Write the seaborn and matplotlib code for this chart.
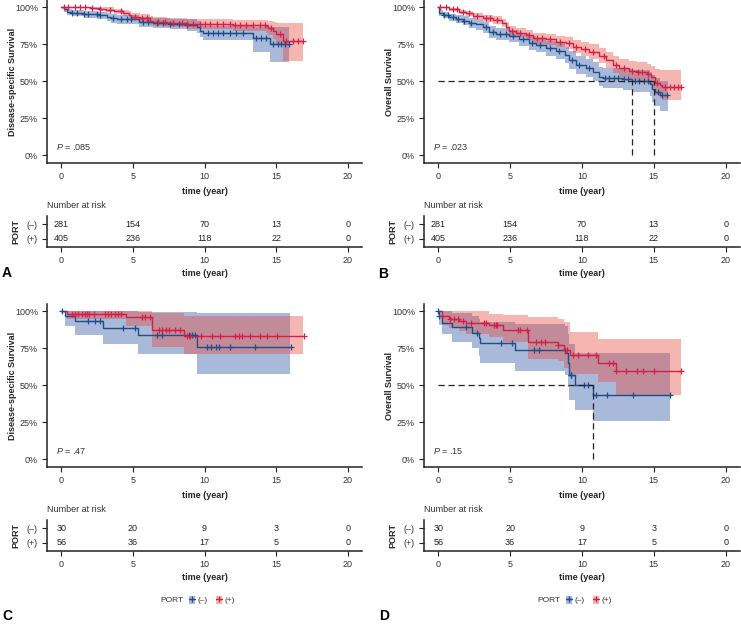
import numpy as np
import pandas as pd
import matplotlib
matplotlib.use("Agg")
import matplotlib.pyplot as plt
import seaborn as sns
from matplotlib.patches import Patch
from matplotlib.lines import Line2D

# ---------------- data ----------------
risk_times = [0, 5, 10, 15, 20]
group_labels = ["(\u2013)", "(+)"]

# Panel A: disease-specific survival (full cohort)
A_neg_t = [0, 0.16, 0.4, 0.74, 1.55, 2.5, 3.2, 3.5, 3.9, 5.4, 6.4, 7.6, 8.75, 9.45, 9.7, 9.9, 13.4, 14.55]
A_neg_s = [1.0, 0.986, 0.97, 0.96, 0.953, 0.946, 0.937, 0.926, 0.919, 0.903, 0.896, 0.887, 0.88, 0.865, 0.842, 0.824, 0.79, 0.75]
A_neg_lo = [1.0, 0.972, 0.951, 0.939, 0.93, 0.921, 0.91, 0.897, 0.889, 0.87, 0.862, 0.851, 0.842, 0.825, 0.799, 0.778, 0.70, 0.63]
A_neg_hi = [1.0, 1.0, 0.99, 0.982, 0.977, 0.971, 0.964, 0.956, 0.95, 0.937, 0.931, 0.924, 0.919, 0.906, 0.887, 0.872, 0.87, 0.87]
A_neg_end = 15.9
A_neg_cens = [0.74, 1.1, 1.55, 1.83, 2.48, 2.7, 3.64, 4.2, 4.57, 4.9, 5.73, 6.08, 6.66, 7.1, 7.6, 8.2, 8.75,
              10.25, 10.6, 10.95, 11.3, 11.76, 12.2, 12.7, 13.6, 13.97, 14.3, 14.78, 15.13, 15.36, 15.6, 15.9]
A_pos_t = [0, 2.0, 2.6, 3.1, 3.7, 4.3, 4.7, 4.9, 5.5, 6.2, 6.4, 7.35, 8.75, 12.0, 14.3, 14.45, 14.8, 15.0, 15.5]
A_pos_s = [1.0, 0.995, 0.99, 0.985, 0.975, 0.96, 0.95, 0.937, 0.926, 0.91, 0.903, 0.896, 0.887, 0.88, 0.872, 0.858, 0.842, 0.82, 0.77]
A_pos_lo = [1.0, 0.985, 0.977, 0.97, 0.958, 0.94, 0.928, 0.912, 0.899, 0.88, 0.872, 0.864, 0.853, 0.843, 0.83, 0.81, 0.785, 0.75, 0.64]
A_pos_hi = [1.0, 1.0, 1.0, 1.0, 0.992, 0.98, 0.973, 0.963, 0.954, 0.941, 0.935, 0.929, 0.922, 0.918, 0.915, 0.906, 0.9, 0.893, 0.893]
A_pos_end = 16.9
A_pos_cens = [0.16, 0.5, 0.97, 1.32, 1.67, 2.13, 2.7, 3.4, 4.2, 5.15, 5.6, 5.97, 6.77, 7.24, 7.8, 8.4, 8.75, 9.2,
              9.67, 10.0, 10.37, 10.84, 11.3, 11.76, 12.1, 12.46, 12.9, 13.4, 13.85, 14.2, 14.66, 15.24, 15.7,
              16.17, 16.5, 16.87]
A_pval = ".085"
A_risk_neg = [281, 154, 70, 13, 0]
A_risk_pos = [405, 236, 118, 22, 0]

# Panel B: overall survival (full cohort)
B_neg_t = [0, 0.05, 0.3, 0.77, 1.23, 1.7, 2.16, 2.6, 3.1, 3.55, 4.0, 4.95, 5.6, 6.3, 6.8, 7.5, 8.2, 8.8, 9.1,
           9.6, 10.3, 10.75, 11.2, 11.45, 12.85, 13.5, 14.7, 14.9, 15.1, 15.4]
B_neg_s = [1.0, 0.964, 0.948, 0.932, 0.921, 0.91, 0.896, 0.885, 0.865, 0.835, 0.82, 0.806, 0.783, 0.76, 0.745,
           0.722, 0.707, 0.677, 0.643, 0.61, 0.587, 0.564, 0.53, 0.52, 0.512, 0.50, 0.48, 0.45, 0.43, 0.406]
B_neg_lo = [1.0, 0.945, 0.925, 0.905, 0.892, 0.879, 0.863, 0.85, 0.828, 0.796, 0.779, 0.763, 0.738, 0.713, 0.696,
            0.671, 0.654, 0.622, 0.586, 0.551, 0.526, 0.501, 0.465, 0.453, 0.443, 0.43, 0.40, 0.36, 0.33, 0.30]
B_neg_hi = [1.0, 0.984, 0.97, 0.957, 0.948, 0.94, 0.928, 0.919, 0.902, 0.875, 0.862, 0.85, 0.829, 0.809, 0.795,
            0.775, 0.761, 0.735, 0.703, 0.672, 0.651, 0.63, 0.597, 0.589, 0.583, 0.574, 0.56, 0.545, 0.525, 0.5]
B_neg_end = 16.0
B_neg_cens = [0.4, 0.7, 1.0, 1.4, 1.8, 2.3, 3.3, 3.8, 4.3, 4.7, 5.2, 5.9, 6.5, 7.1, 7.8, 8.4, 9.3, 9.8, 10.5,
              11.6, 11.9, 12.2, 12.5, 12.9, 13.2, 13.7, 14.0, 14.3, 14.6, 15.3, 15.6, 15.9]
B_pos_t = [0, 0.77, 1.46, 1.93, 2.4, 3.1, 3.8, 4.4, 4.7, 4.95, 5.4, 6.1, 6.6, 7.5, 8.2, 8.9, 9.4, 9.9, 10.5, 11.2,
           11.7, 12.15, 12.6, 13.3, 13.8, 14.5, 14.8, 15.05, 15.4, 15.6]
B_pos_s = [1.0, 0.986, 0.97, 0.96, 0.941, 0.926, 0.914, 0.892, 0.869, 0.84, 0.83, 0.813, 0.79, 0.783, 0.767,
           0.756, 0.734, 0.716, 0.70, 0.67, 0.643, 0.61, 0.587, 0.571, 0.56, 0.549, 0.526, 0.49, 0.474, 0.462]
B_pos_lo = [1.0, 0.974, 0.954, 0.942, 0.92, 0.903, 0.889, 0.865, 0.84, 0.809, 0.798, 0.779, 0.755, 0.747, 0.729,
            0.716, 0.692, 0.672, 0.654, 0.621, 0.591, 0.555, 0.529, 0.511, 0.498, 0.484, 0.455, 0.41, 0.385, 0.37]
B_pos_hi = [1.0, 0.996, 0.984, 0.977, 0.961, 0.949, 0.939, 0.92, 0.898, 0.872, 0.863, 0.848, 0.827, 0.821, 0.807,
            0.797, 0.778, 0.763, 0.749, 0.723, 0.699, 0.67, 0.65, 0.636, 0.628, 0.619, 0.60, 0.58, 0.575, 0.575]
B_pos_end = 16.9
B_pos_cens = [0.1, 0.5, 1.0, 1.3, 1.7, 2.1, 2.7, 3.3, 3.6, 4.1, 5.1, 5.7, 6.3, 6.9, 7.2, 7.8, 8.5, 9.1, 9.6, 10.2,
              10.8, 11.5, 12.4, 12.9, 13.5, 13.9, 14.2, 14.6, 15.2, 15.8, 16.1, 16.4, 16.7, 16.9]
B_medians = [13.5, 15.0]
B_pval = ".023"

# Panel C: disease-specific survival (subgroup)
C_neg_t = [0, 0.27, 0.97, 2.9, 5.35, 9.5]
C_neg_s = [1.0, 0.968, 0.932, 0.887, 0.84, 0.757]
C_neg_lo = [1.0, 0.90, 0.84, 0.777, 0.71, 0.574]
C_neg_hi = [1.0, 1.0, 1.0, 1.0, 0.995, 0.99]
C_neg_end = 16.0
C_neg_cens = [0.03, 1.89, 2.36, 2.71, 4.33, 5.15, 6.7, 7.05, 8.91, 9.14, 9.33, 10.19, 10.42, 10.77, 11.0, 11.81,
              13.55, 16.04]
C_pos_t = [0, 0.4, 4.5, 6.3, 8.6]
C_pos_s = [1.0, 0.984, 0.96, 0.872, 0.836]
C_pos_lo = [1.0, 0.95, 0.90, 0.76, 0.714]
C_pos_hi = [1.0, 1.0, 1.0, 0.99, 0.968]
C_pos_end = 16.9
C_pos_cens = [0.78, 0.96, 1.17, 1.47, 1.64, 1.78, 1.94, 2.29, 3.05, 3.29, 3.5, 3.73, 3.96, 4.15, 5.66, 5.84, 6.19,
              6.82, 7.05, 7.28, 7.51, 7.93, 8.28, 8.79, 9.02, 9.79, 10.5, 11.11, 12.16, 12.39, 12.63, 13.16,
              13.86, 14.37, 15.06, 16.92]
C_pval = ".47"
C_risk_neg = [30, 20, 9, 3, 0]
C_risk_pos = [56, 36, 17, 5, 0]

# Panel D: overall survival (subgroup)
D_neg_t = [0, 0.05, 0.23, 0.95, 2.35, 2.86, 2.93, 5.34, 8.8, 9.0, 9.1, 9.5, 10.75]
D_neg_s = [1.0, 0.968, 0.924, 0.895, 0.856, 0.82, 0.787, 0.741, 0.72, 0.65, 0.568, 0.505, 0.432]
D_neg_lo = [1.0, 0.91, 0.85, 0.79, 0.755, 0.70, 0.65, 0.595, 0.57, 0.49, 0.40, 0.33, 0.257]
D_neg_hi = [1.0, 1.0, 1.0, 0.99, 0.97, 0.95, 0.93, 0.915, 0.90, 0.85, 0.78, 0.72, 0.716]
D_neg_end = 16.1
D_neg_cens = [0.0, 0.07, 1.93, 2.67, 4.37, 5.13, 6.69, 7.04, 9.2, 9.25, 10.17, 10.4, 11.0, 11.75, 13.54, 16.1]
D_pos_t = [0, 0.23, 0.77, 1.46, 1.93, 3.55, 4.48, 6.27, 8.3, 8.78, 9.13, 11.1, 12.38]
D_pos_s = [1.0, 0.969, 0.951, 0.935, 0.922, 0.906, 0.877, 0.794, 0.772, 0.738, 0.704, 0.652, 0.597]
D_pos_lo = [1.0, 0.91, 0.885, 0.865, 0.85, 0.83, 0.795, 0.68, 0.665, 0.62, 0.575, 0.52, 0.435]
D_pos_hi = [1.0, 1.0, 1.0, 1.0, 1.0, 0.98, 0.975, 0.96, 0.95, 0.93, 0.86, 0.81, 0.81]
D_pos_end = 16.9
D_pos_cens = [0.23, 0.84, 1.11, 1.35, 1.74, 2.28, 3.2, 3.32, 3.86, 4.02, 4.09, 5.53, 5.69, 6.18, 6.8, 7.15, 7.43,
              8.3, 8.83, 8.97, 9.4, 9.72, 10.4, 11.0, 11.9, 12.15, 12.38, 13.08, 13.82, 14.24, 14.98, 16.86]
D_medians = [10.75]
D_pval = ".15"

# ---------------- style ----------------
sns.set_theme(style="ticks")
plt.rcParams["font.family"] = ["Liberation Sans", "DejaVu Sans"]
plt.rcParams["mathtext.fontset"] = "custom"
plt.rcParams["mathtext.it"] = "Liberation Sans:italic"
plt.rcParams["mathtext.rm"] = "Liberation Sans"

NEG_LINE = "#1F4E8C"
NEG_FILL = "#2850A0"
POS_LINE = "#D42048"
POS_FILL = "#E6463C"
FILL_ALPHA = 0.4
TXT = "#333333"
FS = 6.5

W, H = 741, 625
fig = plt.figure(figsize=(W / 100, H / 100), dpi=100)


def rect(l, t, r, b):
    return [l / W, 1 - b / H, (r - l) / W, (b - t) / H]


def ftext(x, y, s, **kw):
    fig.text(x / W, 1 - y / H, s, **kw)


def style_axis(ax):
    sns.despine(ax=ax)
    for sp in ("left", "bottom"):
        ax.spines[sp].set_linewidth(1.1)
        ax.spines[sp].set_color("#222222")
    ax.tick_params(axis="both", length=3.5, width=0.8, color="#222222", pad=3,
                   labelsize=FS, labelcolor=TXT)
    ax.set_xlim(-1, 21)
    ax.set_xticks(risk_times)
    ax.set_xlabel("")
    ax.set_ylabel("")


def km_curves(ax, curves):
    # bands first
    for c in curves:
        x = list(c["t"]) + [c["end"]]
        lo = list(c["lo"]) + [c["lo"][-1]]
        hi = list(c["hi"]) + [c["hi"][-1]]
        ax.fill_between(x, lo, hi, step="post", color=c["fill"], alpha=FILL_ALPHA, lw=0)
    for c in curves:
        x = np.array(list(c["t"]) + [c["end"]])
        y = np.array(list(c["s"]) + [c["s"][-1]])
        df = pd.DataFrame({"time": x, "surv": y})
        sns.lineplot(data=df, x="time", y="surv", drawstyle="steps-post", color=c["line"],
                     lw=1.0, ax=ax, estimator=None, sort=False)
        cens = np.array(c["cens"])
        idx = np.clip(np.searchsorted(x, cens, side="right") - 1, 0, len(y) - 1)
        sns.scatterplot(x=cens, y=y[idx], marker="+", s=16, color=c["line"], linewidth=0.9,
                        ax=ax, zorder=5, legend=False)


def main_panel(left, top, right, bottom, curves, pval, ylab, medians=None):
    ax = fig.add_axes(rect(left, top, right, bottom))
    km_curves(ax, curves)
    if medians:
        ax.plot([0, max(medians)], [0.5, 0.5], ls=(0, (5, 3)), color="#222222", lw=0.9, zorder=6)
        for m in medians:
            ax.plot([m, m], [0, 0.5], ls=(0, (5, 3)), color="#222222", lw=0.9, zorder=6)
    style_axis(ax)
    ax.set_ylim(-0.05, 1.05)
    ax.set_yticks([0, 0.25, 0.5, 0.75, 1.0])
    ax.set_yticklabels(["0%", "25%", "50%", "75%", "100%"])
    ax.text(-0.35, 0.055, "$P$ = " + pval, fontsize=FS, color=TXT, ha="left", va="center")
    cx = (left + right) / 2
    ftext(cx, bottom + 28.5, "time (year)", fontsize=FS, fontweight="bold", ha="center", va="center")
    ftext(left - 34, (top + bottom) / 2 + 0.5, ylab, fontsize=FS, fontweight="bold", rotation=90,
          ha="center", va="center")
    return ax


def risk_panel(left, top, right, bottom, neg, pos):
    ax = fig.add_axes(rect(left, top, right, bottom))
    style_axis(ax)
    ax.set_ylim(0.4, 2.6)
    ax.set_yticks([2, 1])
    ax.set_yticklabels(group_labels)
    for t, n1, n2 in zip(risk_times, neg, pos):
        ax.text(t, 2, str(n1), fontsize=FS, color="#222222", ha="center", va="center")
        ax.text(t, 1, str(n2), fontsize=FS, color="#222222", ha="center", va="center")
    cx = (left + right) / 2
    ftext(cx, bottom + 27, "time (year)", fontsize=FS, fontweight="bold", ha="center", va="center")
    ftext(left, top - 11, "Number at risk", fontsize=FS, color=TXT, ha="left", va="center")
    ftext(left - 31, (top + bottom) / 2, "PORT", fontsize=FS, fontweight="bold", rotation=90,
          ha="center", va="center")
    return ax


def curves_for(neg, pos):
    return [dict(neg, line=NEG_LINE, fill=NEG_FILL), dict(pos, line=POS_LINE, fill=POS_FILL)]


A = curves_for(dict(t=A_neg_t, s=A_neg_s, lo=A_neg_lo, hi=A_neg_hi, end=A_neg_end, cens=A_neg_cens),
               dict(t=A_pos_t, s=A_pos_s, lo=A_pos_lo, hi=A_pos_hi, end=A_pos_end, cens=A_pos_cens))
B = curves_for(dict(t=B_neg_t, s=B_neg_s, lo=B_neg_lo, hi=B_neg_hi, end=B_neg_end, cens=B_neg_cens),
               dict(t=B_pos_t, s=B_pos_s, lo=B_pos_lo, hi=B_pos_hi, end=B_pos_end, cens=B_pos_cens))
C = curves_for(dict(t=C_neg_t, s=C_neg_s, lo=C_neg_lo, hi=C_neg_hi, end=C_neg_end, cens=C_neg_cens),
               dict(t=C_pos_t, s=C_pos_s, lo=C_pos_lo, hi=C_pos_hi, end=C_pos_end, cens=C_pos_cens))
D = curves_for(dict(t=D_neg_t, s=D_neg_s, lo=D_neg_lo, hi=D_neg_hi, end=D_neg_end, cens=D_neg_cens),
               dict(t=D_pos_t, s=D_pos_s, lo=D_pos_lo, hi=D_pos_hi, end=D_pos_end, cens=D_pos_cens))

LX = (47, 362)
RX = (424, 740)

main_panel(LX[0], 0, LX[1], 162.5, A, A_pval, "Disease-specific Survival")
risk_panel(LX[0], 216, LX[1], 247, A_risk_neg, A_risk_pos)
main_panel(RX[0], 0, RX[1], 162.5, B, B_pval, "Overall Survival", B_medians)
risk_panel(RX[0], 216, RX[1], 247, A_risk_neg, A_risk_pos)

main_panel(LX[0], 304, LX[1], 466.5, C, C_pval, "Disease-specific Survival")
risk_panel(LX[0], 520, LX[1], 551, C_risk_neg, C_risk_pos)
main_panel(RX[0], 304, RX[1], 466.5, D, D_pval, "Overall Survival", D_medians)
risk_panel(RX[0], 520, RX[1], 551, C_risk_neg, C_risk_pos)

# legends
for left in (LX[0], RX[0]):
    ftext(left + 113, 600, "PORT", fontsize=6, color=TXT, ha="left", va="center")
    handles = [
        (Patch(facecolor=NEG_FILL, alpha=FILL_ALPHA, lw=0),
         Line2D([], [], color=NEG_LINE, lw=1.0, marker="+", markersize=4, markeredgewidth=0.9)),
        (Patch(facecolor=POS_FILL, alpha=FILL_ALPHA, lw=0),
         Line2D([], [], color=POS_LINE, lw=1.0, marker="+", markersize=4, markeredgewidth=0.9)),
    ]
    fig.legend(handles, group_labels, loc="center left",
               bbox_to_anchor=((left + 142) / W, 1 - 600 / H), ncol=2, frameon=False,
               fontsize=6, handlelength=0.75, handleheight=1.1, handletextpad=0.3,
               columnspacing=1.0, borderpad=0, borderaxespad=0, numpoints=1, labelcolor=TXT)

# panel letters
for x, y, s in ((2, 273, "A"), (378, 274, "B"), (2, 616, "C"), (379, 616, "D")):
    ftext(x, y, s, fontsize=10, fontweight="bold", ha="left", va="center", color="black")

fig.savefig("out.png", dpi=100)
